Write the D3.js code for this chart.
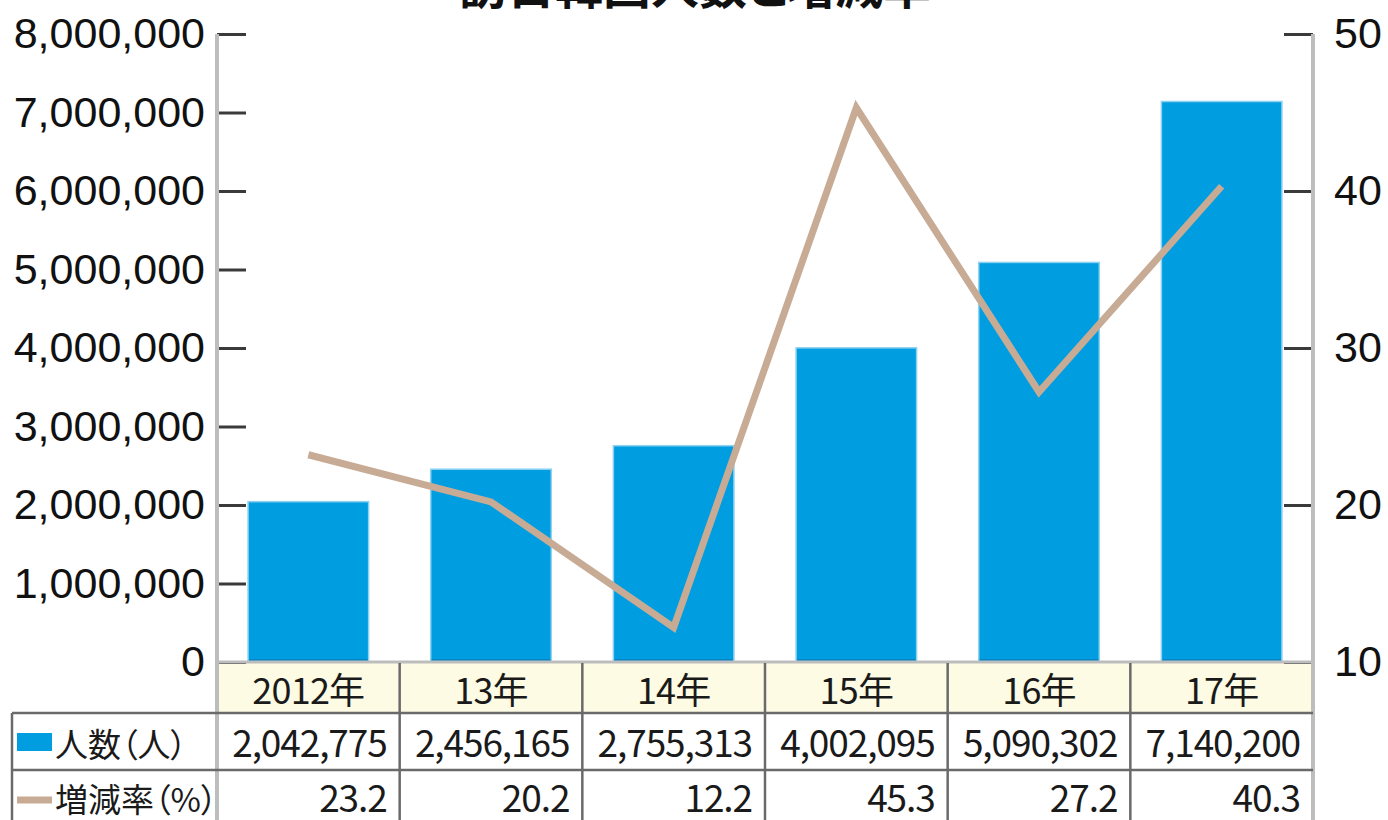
<!DOCTYPE html>
<html lang="ja">
<head>
<meta charset="utf-8">
<script src="https://cdn.jsdelivr.net/npm/d3@7"></script>
<style>
  html, body { margin: 0; padding: 0; background: #fff; }
  svg { display: block; }
  .jp { font-family: "Noto Sans CJK JP", "Noto Sans", sans-serif; font-feature-settings: "palt"; }
</style>
</head>
<body>
<svg id="chart" width="1388" height="820"></svg>
<script>
// Visitors from Korea to Japan and year-on-year change
const years = ["2012年", "13年", "14年", "15年", "16年", "17年"];
const visitors = [2042775, 2456165, 2755313, 4002095, 5090302, 7140200];
const rates = [23.2, 20.2, 12.2, 45.3, 27.2, 40.3];
const leftTicks = [0, 1000000, 2000000, 3000000, 4000000, 5000000, 6000000, 7000000, 8000000];
const rightTicks = [10, 20, 30, 40, 50];
const title = "訪日韓国人数と増減率";
const legendLabels = ["人数（人）", "増減率（%）"];

const W = 1388, H = 820;
const plot = { left: 217, right: 1313, top: 34, bottom: 662 };
const tableLeft = 12;
const rowHeader = [662, 713], rowVisitors = [713, 770], rowRates = [770, 820];

const BLUE = "#009de0", TAN = "#c7ab95", AXIS = "#bdbdbd", RULE = "#6a6a6a";

const svg = d3.select("#chart");

const x = d3.scaleBand().domain(years).range([plot.left, plot.right])
  .paddingInner(0.34).paddingOuter(0.17);
const yL = d3.scaleLinear().domain([0, 8000000]).range([plot.bottom, plot.top]);
const yR = d3.scaleLinear().domain([10, 50]).range([plot.bottom, plot.top]);

// title (sits partly above the top edge)
svg.append("text").attr("class", "jp")
  .attr("x", 695).attr("y", 4)
  .attr("text-anchor", "middle")
  .attr("font-size", 48).attr("font-weight", 700).attr("fill", "#111")
  .text(title);

// header row background
svg.append("rect")
  .attr("x", plot.left).attr("y", rowHeader[0])
  .attr("width", plot.right - plot.left).attr("height", rowHeader[1] - rowHeader[0])
  .attr("fill", "#fdfbe3");

// bars
svg.append("g").selectAll("rect").data(visitors).join("rect")
  .attr("x", (d, i) => x(years[i]))
  .attr("y", d => yL(d))
  .attr("width", x.bandwidth())
  .attr("height", d => yL(0) - yL(d))
  .attr("fill", BLUE)
  .attr("stroke", "#8ed2f2").attr("stroke-width", 1.5);

// darker strip at the base of each bar
svg.append("g").selectAll("rect").data(visitors).join("rect")
  .attr("x", (d, i) => x(years[i]) + 1)
  .attr("y", yL(0) - 3)
  .attr("width", x.bandwidth() - 2)
  .attr("height", 2)
  .attr("fill", "#0784c4");

// left axis
const axL = svg.append("g").attr("transform", `translate(${plot.left},0)`)
  .call(d3.axisLeft(yL).tickValues(leftTicks).tickSizeInner(-29).tickSizeOuter(0)
    .tickPadding(12).tickFormat(d3.format(",")));
axL.select(".domain").remove();
axL.selectAll(".tick line").attr("stroke", "#3a3a3a").attr("stroke-width", 3);
axL.selectAll(".tick text")
  .attr("font-family", "Liberation Sans, Arial, sans-serif")
  .attr("font-size", 43).attr("fill", "#111");

// right axis
const axR = svg.append("g").attr("transform", `translate(${plot.right},0)`)
  .call(d3.axisRight(yR).tickValues(rightTicks).tickSizeInner(-29).tickSizeOuter(0)
    .tickPadding(21).tickFormat(d3.format("d")));
axR.select(".domain").remove();
axR.selectAll(".tick line").attr("stroke", "#3a3a3a").attr("stroke-width", 3);
axR.selectAll(".tick text")
  .attr("font-family", "Liberation Sans, Arial, sans-serif")
  .attr("font-size", 43).attr("fill", "#111");

// growth-rate line
const line = d3.line()
  .x((d, i) => x(years[i]) + x.bandwidth() / 2)
  .y(d => yR(d));
svg.append("path").datum(rates)
  .attr("d", line)
  .attr("fill", "none").attr("stroke", TAN).attr("stroke-width", 7)
  .attr("stroke-linejoin", "miter");

// axis lines and outer borders
const g = svg.append("g");
g.append("line").attr("x1", plot.left).attr("x2", plot.left)
  .attr("y1", plot.top).attr("y2", H).attr("stroke", AXIS).attr("stroke-width", 4);
g.append("line").attr("x1", plot.right).attr("x2", plot.right)
  .attr("y1", plot.top).attr("y2", H).attr("stroke", AXIS).attr("stroke-width", 4);
g.append("line").attr("x1", plot.left).attr("x2", plot.right)
  .attr("y1", plot.bottom).attr("y2", plot.bottom).attr("stroke", AXIS).attr("stroke-width", 3);

// table rules
[rowVisitors[0], rowRates[0]].forEach(yy => {
  g.append("line").attr("x1", tableLeft).attr("x2", plot.right)
    .attr("y1", yy).attr("y2", yy).attr("stroke", RULE).attr("stroke-width", 2.5);
});
g.append("line").attr("x1", tableLeft).attr("x2", tableLeft)
  .attr("y1", rowVisitors[0]).attr("y2", H).attr("stroke", RULE).attr("stroke-width", 2.5);
years.slice(1).forEach(yr => {
  const xx = x(yr) - x.step() * x.paddingInner() / 2;
  g.append("line").attr("x1", xx).attr("x2", xx)
    .attr("y1", plot.bottom + 1).attr("y2", H).attr("stroke", RULE).attr("stroke-width", 2.5);
});

// header labels
svg.append("g").selectAll("text").data(years).join("text").attr("class", "jp")
  .attr("x", d => x(d) + x.bandwidth() / 2)
  .attr("y", 704)
  .attr("text-anchor", "middle")
  .attr("font-size", 36).attr("letter-spacing", -0.8).attr("fill", "#1a1a1a")
  .text(d => d);

// value cells
const cellRight = i => x(years[i]) + x.bandwidth() + x.step() * x.paddingInner() / 2 - 13;
svg.append("g").selectAll("text").data(visitors).join("text").attr("class", "jp")
  .attr("x", (d, i) => cellRight(i))
  .attr("y", 757)
  .attr("text-anchor", "end")
  .attr("font-size", 37).attr("letter-spacing", -1.1).attr("fill", "#1a1a1a")
  .text(d => d3.format(",")(d));
svg.append("g").selectAll("text").data(rates).join("text").attr("class", "jp")
  .attr("x", (d, i) => cellRight(i))
  .attr("y", 812)
  .attr("text-anchor", "end")
  .attr("font-size", 37).attr("letter-spacing", -1.1).attr("fill", "#1a1a1a")
  .text(d => d3.format(".1f")(d));

// legend column
svg.append("rect").attr("x", 17).attr("y", 733).attr("width", 35).attr("height", 18)
  .attr("fill", BLUE);
svg.append("line").attr("x1", 17).attr("x2", 52).attr("y1", 800).attr("y2", 800)
  .attr("stroke", TAN).attr("stroke-width", 7);
svg.append("text").attr("class", "jp").attr("x", 55).attr("y", 757)
  .attr("font-size", 33).attr("fill", "#1a1a1a").text(legendLabels[0]);
svg.append("text").attr("class", "jp").attr("x", 55).attr("y", 812)
  .attr("font-size", 33).attr("fill", "#1a1a1a").text(legendLabels[1]);
</script>
</body>
</html>
